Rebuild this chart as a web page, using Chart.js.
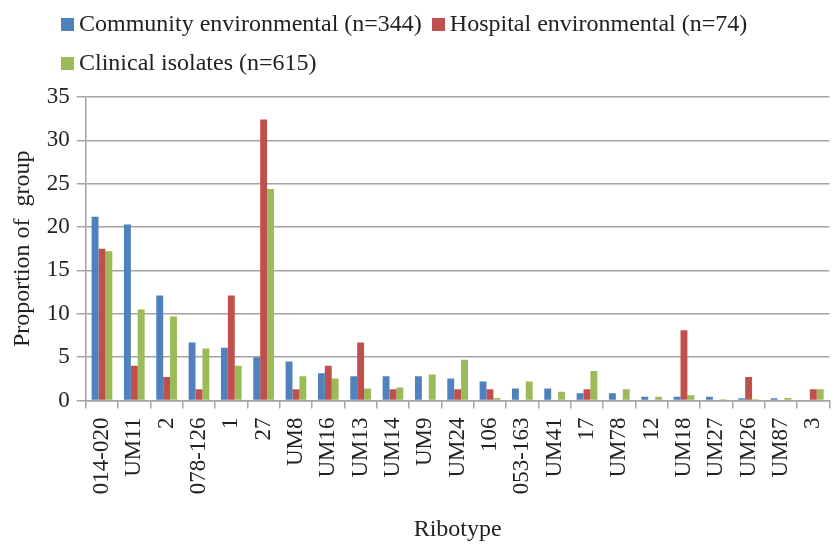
<!DOCTYPE html>
<html>
<head>
<meta charset="utf-8">
<script src="https://cdn.jsdelivr.net/npm/chart.js@4"></script>
<style>
  html, body { margin: 0; padding: 0; background: #fff; overflow: hidden; }
  #wrap { position: relative; width: 850px; height: 544px; }
  #legend { position: absolute; left: 61px; top: 4px; width: 770px; font-family: 'Liberation Serif', serif; font-size: 24px; line-height: 39px; color: #222; white-space: nowrap; }
  .item { display: inline-block; margin-right: 10px; }
  .box { display: inline-block; width: 13px; height: 13px; margin-right: 5px; vertical-align: 0px; }
</style>
</head>
<body>
<div id="wrap">
  <div id="legend"></div>
  <canvas id="chart" width="850" height="544"></canvas>
</div>
<script>
// ── data ─────────────────────────────────────────────
const ribotypes = ['014-020', 'UM11', '2', '078-126', '1', '27', 'UM8', 'UM16', 'UM13', 'UM14', 'UM9', 'UM24',
                   '106', '053-163', 'UM41', '17', 'UM78', '12', 'UM18', 'UM27', 'UM26', 'UM87', '3'];
const seriesNames = ['Community environmental (n=344)', 'Hospital environmental (n=74)', 'Clinical isolates (n=615)'];
const community = [21.2, 20.3, 12.1, 6.7, 6.1, 5.0, 4.5, 3.15, 2.8, 2.8, 2.8, 2.55, 2.2, 1.4, 1.4, 0.85, 0.85, 0.45, 0.45, 0.45, 0.25, 0.25, 0];
const hospital  = [17.5, 4.0, 2.7, 1.3, 12.1, 32.4, 1.3, 4.0, 6.7, 1.3, 0, 1.3, 1.3, 0, 0, 1.3, 0, 0, 8.1, 0, 2.7, 0, 1.3];
const clinical  = [17.2, 10.5, 9.7, 6.0, 4.0, 24.4, 2.8, 2.55, 1.4, 1.5, 3.0, 4.7, 0.3, 2.2, 1.0, 3.4, 1.3, 0.45, 0.6, 0.15, 0.15, 0.3, 1.3];
const colors = ['#4f81bd', '#c0504d', '#9bbb59'];

const FONT = 'Liberation Serif';
const GRID = '#a8a2a2';

// HTML legend (two rows like the original)
const legendEl = document.getElementById('legend');
seriesNames.forEach((name, i) => {
    const span = document.createElement('span');
    span.className = 'item';
    span.innerHTML = `<span class="box" style="background:${colors[i]}"></span>${name}`;
    legendEl.appendChild(span);
    if (i === 1) legendEl.appendChild(document.createElement('br'));
});

new Chart(document.getElementById('chart'), {
    type: 'bar',
    data: {
        labels: ribotypes,
        datasets: [community, hospital, clinical].map((d, i) => ({
            label: seriesNames[i], data: d, backgroundColor: colors[i], borderWidth: 0
        }))
    },
    options: {
        responsive: false, animation: false,
        layout: { padding: { top: 97, right: 5, left: 8, bottom: 0 } },
        datasets: { bar: { categoryPercentage: 0.64, barPercentage: 1.0 } },
        plugins: { legend: { display: false }, tooltip: { enabled: false } },
        scales: {
            x: {
                grid: { drawOnChartArea: false, offset: true, color: GRID, lineWidth: 1.5, tickLength: 8 },
                border: { color: GRID, width: 1.5 },
                ticks: { font: { family: FONT, size: 23 }, color: '#222', maxRotation: 90, minRotation: 90, autoSkip: false, padding: 9 },
                title: { display: true, text: 'Ribotype', font: { family: FONT, size: 24 }, color: '#222', padding: { top: 12, bottom: 0 } }
            },
            y: {
                min: 0, max: 35,
                ticks: { stepSize: 5, font: { family: FONT, size: 23 }, color: '#222', padding: 7 },
                grid: { color: GRID, lineWidth: 1.5, tickLength: 9 },
                border: { color: GRID, width: 1.5 },
                title: { display: true, text: 'Proportion of  group', font: { family: FONT, size: 24 }, color: '#222', padding: { top: 0, bottom: 3 } }
            }
        }
    }
});
</script>
</body>
</html>
